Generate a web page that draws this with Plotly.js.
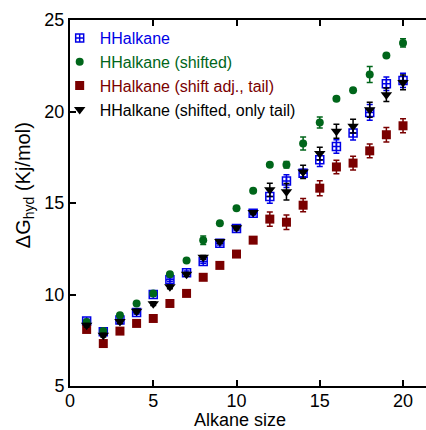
<!DOCTYPE html>
<html>
<head>
<meta charset="utf-8">
<script src="https://cdn.plot.ly/plotly-3.0.1.min.js"></script>
<style>html,body{margin:0;padding:0;background:#fff;}#chart{width:426px;height:430px;}</style>
</head>
<body>
<div id="chart"></div>
<script>
var alkaneSize = [1,2,3,4,5,6,7,8,9,10,11,12,13,14,15,16,17,18,19,20];

var hhalkane = [8.55,7.96,8.6,9.02,10.0,10.8,11.19,11.81,12.8,13.6,14.44,15.35,16.2,16.63,17.36,18.09,18.82,19.95,21.52,21.7];
var hhalkaneErr = [0.1,0.1,0.1,0.1,0.1,0.1,0.1,0.1,0.1,0.1,0.1,0.36,0.35,0.2,0.36,0.37,0.38,0.43,0.37,0.39];

var shifted = [8.5,8.01,8.87,9.51,10.06,11.1,11.86,12.96,13.89,14.71,15.67,17.09,17.09,18.25,19.4,20.7,21.16,22.02,23.06,23.75];
var shiftedErr = [0.05,0.1,0.05,0.05,0.05,0.05,0.05,0.23,0.05,0.05,0.05,0.05,0.18,0.35,0.3,0.1,0.05,0.44,0.05,0.22];

var shiftAdjTail = [8.09,7.32,8.0,8.42,8.69,9.51,10.06,10.94,11.59,12.21,12.97,14.12,13.95,14.88,15.81,16.97,17.18,17.85,18.73,19.22];
var shiftAdjTailErr = [0.05,0.05,0.05,0.05,0.05,0.05,0.05,0.05,0.05,0.05,0.05,0.39,0.4,0.36,0.41,0.37,0.37,0.38,0.39,0.38];

var onlyTail = [8.32,7.78,8.52,9.09,9.5,10.42,11.1,12.03,12.89,13.65,14.48,15.72,15.62,16.7,17.7,18.92,19.2,20.1,20.92,21.59];
var onlyTailErr = [0.1,0.1,0.1,0.1,0.1,0.1,0.1,0.1,0.1,0.1,0.1,0.36,0.45,0.36,0.35,0.38,0.38,0.41,0.37,0.4];

var xTicks = [0,5,10,15,20];
var yTicks = [5,10,15,20,25];

var names = ['HHalkane','HHalkane (shifted)','HHalkane (shift adj., tail)','HHalkane (shifted, only tail)'];
var colors = ['#0000e6','#00661a','#7a0000','#000000'];
var xTitle = 'Alkane size';
var yTitle = 'ΔG<sub>hyd</sub> (Kj/mol)';

var FONT = 'Arial, "Liberation Sans", sans-serif';

function mk(y, err, i, symbol, size) {
  return {
    x: alkaneSize, y: y, type: 'scatter', mode: 'markers',
    name: '<span style="color:' + colors[i] + '">' + names[i] + '</span>',
    marker: {symbol: symbol, size: size, color: colors[i], line: {color: colors[i], width: symbol.indexOf('open') >= 0 ? 1.5 : 0}},
    error_y: {type: 'data', array: err, visible: true, color: colors[i], thickness: 1.5, width: 3}
  };
}

var data = [
  mk(hhalkane, hhalkaneErr, 0, 'square-cross-open', 8),
  mk(shifted, shiftedErr, 1, 'circle', 8),
  mk(shiftAdjTail, shiftAdjTailErr, 2, 'square', 9),
  mk(onlyTail, onlyTailErr, 3, 'triangle-down', 10)
];

var layout = {
  width: 426, height: 430,
  margin: {l: 70, r: 0, t: 20, b: 44},
  paper_bgcolor: '#fff', plot_bgcolor: '#fff',
  font: {family: FONT, size: 18, color: '#000'},
  showlegend: true,
  legend: {x: -0.029, y: 0.997, xanchor: 'left', yanchor: 'top', bgcolor: 'rgba(0,0,0,0)', font: {family: FONT, size: 16}, tracegroupgap: 0},
  xaxis: {
    range: [0, 21.38], tickvals: xTicks, ticktext: xTicks.map(String),
    ticks: 'inside', ticklen: 6, tickwidth: 2, tickcolor: '#000',
    showline: true, linewidth: 2, linecolor: '#000', mirror: 'ticks',
    showgrid: false, zeroline: false, tickfont: {family: FONT, size: 18},
    ticklabelstandoff: -3
  },
  yaxis: {
    range: [5, 25], tickvals: yTicks, ticktext: yTicks.map(String),
    ticks: 'inside', ticklen: 6, tickwidth: 2, tickcolor: '#000',
    showline: true, linewidth: 2, linecolor: '#000', mirror: false,
    showgrid: false, zeroline: false, tickfont: {family: FONT, size: 18}
  },
  annotations: [{
    text: yTitle, xref: 'paper', yref: 'paper',
    x: -0.128, y: 0.55, xanchor: 'center', yanchor: 'middle', textangle: -90,
    showarrow: false, font: {family: FONT, size: 20, color: '#000'}
  }, {
    text: xTitle, xref: 'paper', yref: 'paper',
    x: (240 - 70) / 356, y: -0.093, xanchor: 'center', yanchor: 'middle', borderpad: 0,
    showarrow: false, font: {family: FONT, size: 18, color: '#000'}
  }]
};

Plotly.newPlot('chart', data, layout, {displayModeBar: false, staticPlot: true});
</script>
</body>
</html>
